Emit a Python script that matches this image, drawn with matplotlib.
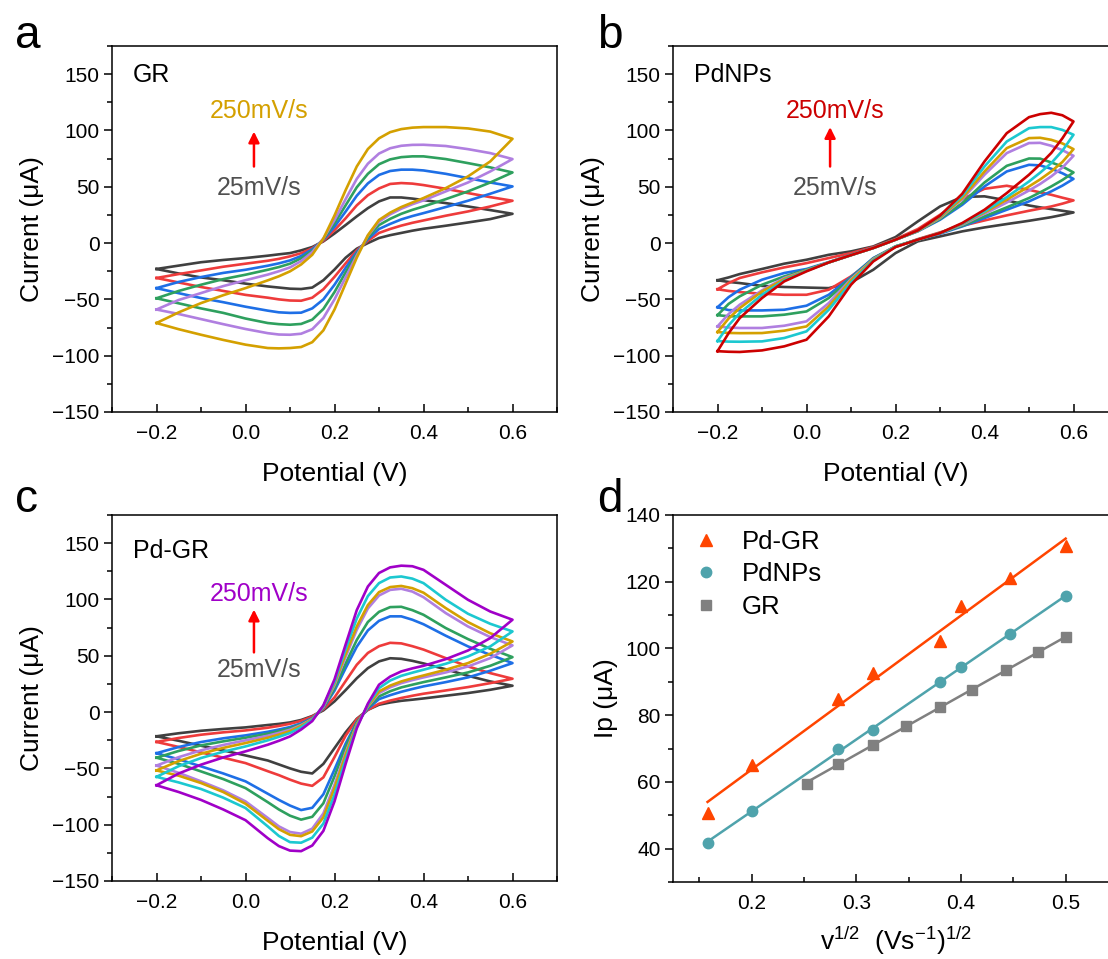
import numpy as np
import matplotlib.pyplot as plt
from matplotlib.ticker import MultipleLocator

plt.rcParams['font.family'] = ['Liberation Sans', 'DejaVu Sans']
plt.rcParams['mathtext.fontset'] = 'custom'
plt.rcParams['mathtext.rm'] = 'Liberation Sans'
plt.rcParams['mathtext.it'] = 'Liberation Sans:italic'

# ---------------- data ----------------
# potential grids (V)
pot_ac = [-0.2, -0.15, -0.1, -0.05, 0.0, 0.05, 0.075, 0.1, 0.125, 0.15, 0.175, 0.2,
          0.225, 0.25, 0.275, 0.3, 0.325, 0.35, 0.375, 0.4, 0.45, 0.5, 0.55, 0.6]
pot_b = [-0.2, -0.175, -0.15, -0.1, -0.05, 0.0, 0.05, 0.1, 0.15, 0.2, 0.25, 0.3,
         0.35, 0.4, 0.45, 0.5, 0.525, 0.55, 0.575, 0.6]

# a: GR, 25 -> 250 mV/s ; forward (anodic) and reverse branch, current in uA
gr_fwd = [
    [-23, -20, -17, -15, -13.3, -11.2, -10, -8.9, -6.5, -3.5, 1.5, 8.5, 16, 23.7, 31, 37, 40.5, 40.5, 39.5, 38.2, 35.5, 32.5, 29.3, 26],
    [-31, -27.5, -24.3, -21, -18.3, -15.7, -14, -11.8, -9, -4.5, 2, 11.5, 22, 33.5, 42.5, 48.5, 52.5, 53.3, 52.8, 51.5, 48.2, 44.4, 40.8, 37.6],
    [-40, -34.5, -30.2, -26.5, -23.7, -20.1, -18, -15.4, -11.5, -5.5, 3, 14.5, 28, 42, 53, 60.5, 64, 65.2, 65.2, 64.5, 61.5, 57.7, 53.8, 50.3],
    [-49, -42.5, -37, -32, -28.1, -23.7, -21.3, -18.3, -13.5, -6.8, 3.5, 17.5, 33.5, 49.5, 61.5, 70, 74.3, 76.3, 77, 77, 74.6, 71, 67.2, 62.7],
    [-59, -50.5, -44.4, -38.2, -33, -28, -25, -21.6, -16, -8, 4, 20.5, 39, 57, 70.5, 79.5, 84.2, 86.4, 87.2, 87.3, 86.2, 83.4, 79.9, 74.6],
    [-71, -61.5, -53.3, -46.3, -40, -33.1, -29.5, -25.1, -19, -10.4, 4, 24.5, 47, 68, 83.5, 93, 98.5, 101.2, 102.5, 103, 103, 101.8, 99, 92.6],
]
gr_rev = [
    [-23, -27, -30.5, -33, -36, -38.5, -39.5, -40.5, -40.8, -39.5, -33, -23.5, -13, -5, 0, 4.5, 7, 9, 11, 12.7, 15.4, 18.3, 21.3, 26],
    [-31, -35, -39, -42.5, -46, -48.5, -50, -51, -51.2, -48.5, -41, -30, -18, -6.5, 2, 9, 12.5, 15.5, 18, 20.1, 24.3, 28.1, 32.5, 37.6],
    [-40, -44.5, -48.8, -52.5, -56.5, -60, -61.5, -62, -61.8, -58, -50, -37, -22, -8, 3.5, 12.5, 17, 21, 24, 26.6, 32, 37.6, 43.8, 50.3],
    [-49, -53.5, -58, -62, -67, -71, -72, -72.5, -71.8, -68, -58.5, -43.5, -26, -9.5, 5, 16, 21.5, 26, 29.5, 32.5, 39, 45.9, 53.8, 62.7],
    [-59, -63, -67.5, -72, -76.3, -80, -81.2, -81.4, -80.5, -76.5, -66.5, -50, -30.5, -11, 6.5, 19, 25.5, 30.5, 34.5, 37.9, 45.9, 53.8, 63.6, 74.6],
    [-71, -76.5, -81.4, -86, -90.2, -93.2, -93.5, -93.2, -92.3, -88, -77.5, -59, -36, -13, 7, 20.5, 27, 32, 36, 40, 48.8, 59.2, 72.5, 92.6],
]
gr_colors = ['#404040', '#EE3B3B', '#1E6FE6', '#2EA05E', '#B07FE0', '#D4A000']

# b: PdNPs
pd_fwd = [
    [-33, -30.5, -27.5, -23, -18.3, -14.8, -10.4, -7.4, -3, 5.3, 19.2, 32.5, 41, 41.5, 37.9, 33.4, 31.7, 30.2, 28.7, 27.2],
    [-41, -35.5, -31, -26, -21.6, -17.8, -13.3, -8.9, -3.5, 3.5, 12.4, 25.1, 39, 48.2, 50.9, 47.3, 45, 42.9, 40.3, 37.9],
    [-57, -48, -41.4, -32.5, -26.6, -23, -16.9, -10.4, -4.1, 3, 10.4, 20.7, 34, 50.3, 63.6, 69.5, 69, 66, 62, 57],
    [-64, -54, -47.3, -37, -29.6, -23.7, -17.2, -10.7, -4.4, 3, 10.7, 21.3, 35.5, 53.8, 68.6, 75.1, 75, 71.6, 68, 62.7],
    [-74, -63, -54.7, -42, -31, -24.3, -17.2, -10.7, -4.4, 3, 10.7, 22.2, 39, 60.7, 79.9, 88.8, 89, 86.4, 82.5, 77.5],
    [-79, -67, -57.7, -43, -32, -24.3, -17.2, -10.7, -4.4, 3, 10.7, 22.8, 40, 63.6, 84.3, 93.2, 93.5, 91.7, 88.5, 83.4],
    [-87, -73, -62.1, -45.9, -33.1, -24.6, -17.2, -10.7, -4.4, 3, 10.9, 23.7, 42, 68, 90.2, 102, 103, 103, 100.5, 96.2],
    [-96, -80, -66.6, -48.8, -34, -25.1, -17.2, -10.7, -4.4, 3, 11.2, 24.3, 43.8, 72.5, 97.6, 111.8, 114.5, 115.7, 113.5, 108],
]
pd_rev = [
    [-33, -34.5, -35.5, -38, -39, -39.5, -40, -35, -23.7, -8.9, 1.5, 5.9, 10.4, 13.9, 16.9, 19.8, 21.4, 23, 25, 27.2],
    [-41, -42.5, -43.5, -45, -45.9, -45.9, -41.4, -29.6, -14.8, -3.5, 3.5, 9.5, 15.4, 20.1, 24.6, 28.7, 30.6, 32.5, 35, 37.9],
    [-57, -59.5, -59.8, -59.8, -59.2, -55.6, -45.9, -30.2, -13.3, -3, 3, 8.3, 14.8, 22.2, 29.6, 37, 41.5, 45.9, 51, 57],
    [-64, -65, -65.1, -65.1, -63.6, -60.7, -48.8, -31, -13.6, -3, 3, 8.9, 15.4, 23.7, 31.7, 40, 45, 50.3, 56, 62.7],
    [-74, -75, -75.4, -75.4, -73.4, -69.5, -53.3, -32, -14.2, -3, 3, 8.9, 16.3, 26, 36, 46.7, 52.5, 59.2, 67, 77.5],
    [-79, -79.8, -80, -79.9, -77.8, -74, -56.2, -33.1, -14.8, -3, 3, 8.9, 16.9, 27.2, 38.5, 50.3, 56.5, 63.6, 72, 83.4],
    [-87, -87.5, -87.6, -87.3, -84.3, -78.4, -59.2, -35, -15.4, -3, 3, 8.9, 17.2, 28.1, 40.8, 54.7, 62.5, 71, 82, 96.2],
    [-96, -96.5, -96.7, -95.3, -91.7, -85.8, -65.1, -37, -16.3, -3.5, 3, 8.9, 17.8, 29.6, 44.4, 60.7, 70, 80, 93, 108],
]
pd_colors = ['#404040', '#EE3B3B', '#1E6FE6', '#2EA05E', '#B07FE0', '#D4A000', '#1CC8D0', '#CC0000']

# c: Pd-GR
pdgr_fwd = [
    [-21.5, -18.8, -16.6, -15, -13.6, -11.5, -10.5, -9.2, -7, -3.5, 1.5, 9.5, 19.5, 30, 39, 45, 47.8, 47.3, 45.5, 43.2, 38, 32.2, 27.2, 23.4],
    [-26.5, -23, -20.1, -18, -16.3, -13.9, -12.3, -10.4, -7.8, -4, 2.5, 13, 27.5, 42, 52.5, 58.5, 61.5, 61, 58.5, 55.5, 47.9, 40.5, 34.6, 29.6],
    [-36.5, -31, -26.6, -23.3, -20.7, -17.5, -15.5, -13.3, -10, -5.3, 3.5, 19, 39, 58, 72.5, 81, 85, 85, 82, 78, 67.8, 58.3, 50.9, 43.5],
    [-40.5, -34.5, -29.6, -26, -22.8, -19.2, -17, -14.5, -10.8, -5.9, 4, 21, 43, 64, 80, 89, 93.2, 93.5, 90.5, 86.4, 74.6, 64.8, 56.2, 48.8],
    [-47.5, -40, -34, -29.2, -25.1, -21, -18.5, -15.7, -11.5, -6.2, 4.5, 24, 49, 73, 92, 103.5, 108.5, 109.5, 107, 102, 87.9, 76, 66.6, 59.2],
    [-51.8, -43.5, -37, -31.8, -27.5, -22.8, -20, -16.9, -12.3, -6.5, 5, 25.5, 51.5, 76, 95, 106.5, 111, 112, 110, 106, 92.3, 79.9, 70, 62.7],
    [-57.5, -48, -40.8, -35.2, -30.5, -25.1, -22, -18.6, -13.5, -7, 5.5, 27, 56, 83, 103, 114.5, 119.5, 120.4, 118.5, 114.5, 99.7, 87.3, 78.4, 71.6],
    [-65, -54.5, -46.7, -40.3, -34.9, -29, -25.5, -21.6, -15.5, -8, 6, 29, 60, 90.5, 111.5, 123.5, 128.5, 130, 129.5, 126.3, 113, 99.7, 89.3, 82],
]
pdgr_rev = [
    [-21.5, -25.5, -29.9, -34, -38.5, -43, -46.5, -50, -53, -54.5, -46, -32, -18, -6, 2, 6.5, 8.5, 10, 11, 12.1, 14.5, 16.9, 19.8, 23.4],
    [-26.5, -31, -35.8, -40.5, -45.3, -52.5, -56, -60, -63.5, -65.5, -58, -40, -21, -6.5, 2, 7.4, 10.2, 12.5, 14.5, 16.3, 19.2, 22.2, 25.7, 29.6],
    [-36.5, -42, -48.2, -54.5, -61.5, -72.5, -78, -83, -87, -85, -73, -51, -28, -9, 3, 11.5, 15, 18, 20.5, 22.8, 26.6, 30.8, 36.7, 43.5],
    [-40.5, -46, -52.7, -59.5, -67.5, -80, -86.5, -92, -95.5, -93, -81, -57, -31, -9.5, 4, 13.9, 18.5, 21.9, 24.3, 26.6, 30.8, 35.2, 41.1, 48.8],
    [-47.5, -54, -61.5, -69.5, -79.3, -94, -101.5, -106.5, -108, -103.5, -90, -64.5, -36, -11, 5, 16.9, 22, 25.7, 28.4, 30.8, 35.2, 40.5, 47.9, 59.2],
    [-51.8, -56.5, -63, -71, -81.4, -96.5, -104, -109, -110.2, -106, -93.5, -67.5, -38, -11.5, 5.5, 18.3, 23.5, 27.2, 30, 32.5, 37.6, 43.5, 51.8, 62.7],
    [-57.5, -62.5, -68.3, -76, -85.2, -101.5, -110, -115.5, -116, -111.5, -99, -73.4, -42, -13, 6.5, 21.3, 28, 32.2, 35, 37.6, 42.9, 49.4, 58.3, 71.6],
    [-65, -71, -78, -86.5, -96, -112, -119, -123, -123.5, -118.5, -105.5, -79.3, -46, -14.5, 7.5, 24.3, 31.5, 36.1, 38.8, 41.1, 47, 54.7, 65.7, 82],
]
pdgr_colors = ['#404040', '#EE3B3B', '#1E6FE6', '#2EA05E', '#B07FE0', '#D4A000', '#1CC8D0', '#A000C8']

# d: peak current vs square root of scan rate
sqrt_v_pdgr = [0.158, 0.2, 0.283, 0.316, 0.38, 0.4, 0.447, 0.5]
ip_pdgr = [50.7, 65.0, 84.8, 92.5, 102.2, 112.7, 121.0, 130.8]
sqrt_v_pd = [0.158, 0.2, 0.283, 0.316, 0.38, 0.4, 0.447, 0.5]
ip_pd = [41.8, 51.3, 69.8, 75.5, 89.8, 94.5, 104.4, 115.7]
sqrt_v_gr = [0.253, 0.283, 0.316, 0.348, 0.38, 0.411, 0.443, 0.474, 0.5]
ip_gr = [59.5, 65.5, 71.2, 76.9, 82.5, 87.5, 93.4, 98.9, 103.5]

# ---------------- figure ----------------
W, H = 1108, 959
fig = plt.figure(figsize=(W / 100, H / 100), dpi=100)


def box(l, t, r, b):
    return [l / W, 1 - b / H, (r - l) / W, (b - t) / H]


ax_a = fig.add_axes(box(112, 46, 557, 412))
ax_b = fig.add_axes(box(673, 46, 1118, 412))
ax_c = fig.add_axes(box(112, 515, 557, 881))
ax_d = fig.add_axes(box(673, 515, 1118, 882))

TICK_FS = 15
LABEL_FS = 19


def style(ax):
    for s in ax.spines.values():
        s.set_linewidth(1.1)
    ax.tick_params(axis='x', which='both', direction='in', labelsize=TICK_FS, width=1.1, pad=8.5)
    ax.tick_params(axis='y', which='both', direction='out', labelsize=TICK_FS, width=1.1, pad=3)
    ax.tick_params(which='major', length=6)
    ax.tick_params(which='minor', length=3.5)


def cv_panel(ax, pot, fwd, rev, colors, name, fast_color, arrow_x, arrow_y, txt_hi, txt_lo):
    pot = np.asarray(pot)
    for f, r, c in zip(fwd, rev, colors):
        x = np.concatenate([pot, pot[::-1]])
        y = np.concatenate([f, r[::-1]])
        ax.plot(x, y, color=c, lw=1.9, solid_joinstyle='round')
    ax.set_xlim(-0.3, 0.7)
    ax.set_ylim(-150, 175)
    ax.xaxis.set_major_locator(MultipleLocator(0.2))
    ax.xaxis.set_minor_locator(MultipleLocator(0.1))
    ax.yaxis.set_major_locator(MultipleLocator(50))
    ax.yaxis.set_minor_locator(MultipleLocator(25))
    ax.xaxis.set_major_formatter(plt.FuncFormatter(lambda v, p: f'{v:.1f}'.replace('-', '\u2212')))
    ax.set_xlabel('Potential (V)', fontsize=LABEL_FS, labelpad=14)
    ax.set_ylabel('Current (\u03bcA)', fontsize=LABEL_FS, labelpad=6)
    style(ax)
    ax.text(-0.253, name[1], name[0], fontsize=18, va='center', ha='left')
    ax.text(arrow_x + 0.012, txt_hi, '250mV/s', color=fast_color, fontsize=18, ha='center', va='center')
    ax.text(arrow_x + 0.012, txt_lo, '25mV/s', color='#505050', fontsize=18, ha='center', va='center')
    ax.annotate('', xy=(arrow_x, arrow_y[1]), xytext=(arrow_x, arrow_y[0]),
                arrowprops=dict(arrowstyle='-|>', color='red', lw=1.8, mutation_scale=16, shrinkA=0, shrinkB=0))


cv_panel(ax_a, pot_ac, gr_fwd, gr_rev, gr_colors, ('GR', 149), '#D4A000', 0.019, (68, 99), 117, 48.8)
cv_panel(ax_b, pot_b, pd_fwd, pd_rev, pd_colors, ('PdNPs', 149), '#CC0000', 0.053, (68, 103), 117, 49)
cv_panel(ax_c, pot_ac, pdgr_fwd, pdgr_rev, pdgr_colors, ('Pd-GR', 142.6), '#A000C8', 0.019, (53, 91), 104.7, 37)

# panel d
series = [
    (sqrt_v_pdgr, ip_pdgr, '#FF4500', '^', 8.5, 'Pd-GR'),
    (sqrt_v_pd, ip_pd, '#4FA3AC', 'o', 7.5, 'PdNPs'),
    (sqrt_v_gr, ip_gr, '#808080', 's', 6.5, 'GR'),
]
for xs, ys, c, m, ms, lab in series:
    xs = np.asarray(xs)
    k, b0 = np.polyfit(xs, ys, 1)
    xx = np.array([xs.min(), xs.max()])
    ax_d.plot(xx, k * xx + b0, color=c, lw=1.8)
    ax_d.plot(xs, ys, ls='none', marker=m, ms=ms, color=c, mec=c, label=lab)
ax_d.set_xlim(0.125, 0.55)
ax_d.set_ylim(30, 140)
ax_d.xaxis.set_major_locator(MultipleLocator(0.1))
ax_d.xaxis.set_minor_locator(MultipleLocator(0.05))
ax_d.yaxis.set_major_locator(MultipleLocator(20))
ax_d.yaxis.set_minor_locator(MultipleLocator(10))
ax_d.set_xlabel('v$^{1/2}$  (Vs$^{-1}$)$^{1/2}$', fontsize=LABEL_FS, labelpad=9)
ax_d.set_ylabel('Ip (\u03bcA)', fontsize=LABEL_FS, labelpad=5)
style(ax_d)
ax_d.legend(loc='upper left', frameon=False, fontsize=18.5, handlelength=1.0, handletextpad=0.9,
            borderaxespad=0, borderpad=0, labelspacing=0.33, bbox_to_anchor=(0.045, 0.96))

for lbl, x, y in [('a', 15, 48), ('b', 597, 48), ('c', 15, 512), ('d', 597, 512)]:
    fig.text(x / W, 1 - y / H, lbl, fontsize=33, va='baseline', ha='left')

fig.savefig('out.png', dpi=100)
